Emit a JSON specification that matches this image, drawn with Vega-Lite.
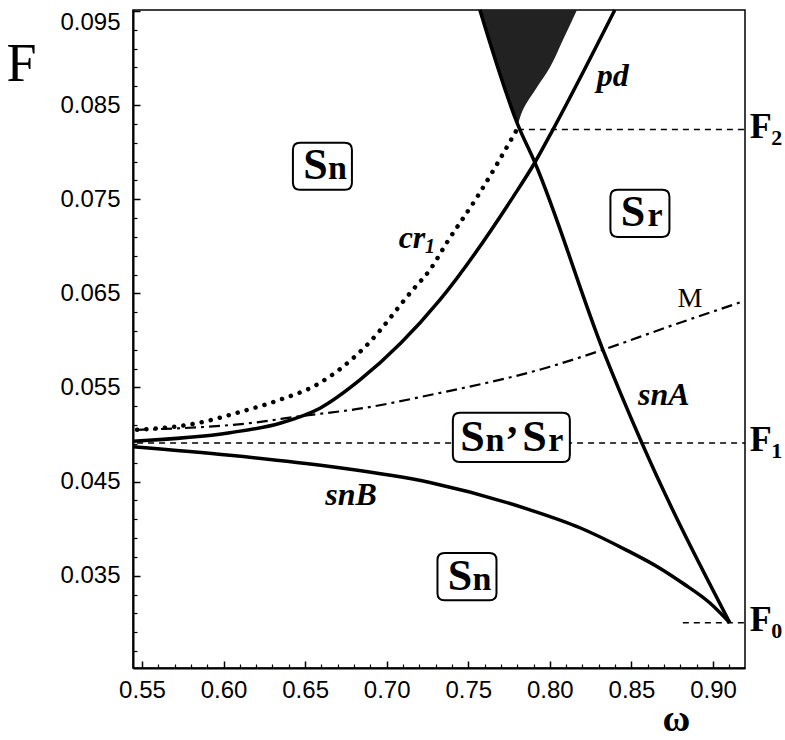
{
  "$schema": "https://vega.github.io/schema/vega-lite/v6.json",
  "width": 612,
  "height": 658,
  "autosize": {"type": "none"},
  "padding": {"left": 133, "top": 10, "right": 40, "bottom": 72},
  "background": "white",
  "config": {
    "view": {"stroke": "black", "strokeWidth": 1.5},
    "axis": {
      "domainColor": "black",
      "domainWidth": 2,
      "tickColor": "black",
      "tickWidth": 1.5,
      "labelColor": "black",
      "labelFont": "Liberation Sans",
      "labelFontSize": 24,
      "labelOverlap": false,
      "grid": false,
      "titleColor": "black"
    }
  },
  "datasets": {
    "curves": [
      {"curve": "pd", "w": 0.5445, "F": 0.0493},
      {"curve": "pd", "w": 0.6039, "F": 0.0502},
      {"curve": "pd", "w": 0.6346, "F": 0.0512},
      {"curve": "pd", "w": 0.6591, "F": 0.0528},
      {"curve": "pd", "w": 0.6836, "F": 0.0558},
      {"curve": "pd", "w": 0.7326, "F": 0.0643},
      {"curve": "pd", "w": 0.7773, "F": 0.0752},
      {"curve": "pd", "w": 0.7908, "F": 0.0789},
      {"curve": "pd", "w": 0.8019, "F": 0.0824},
      {"curve": "pd", "w": 0.8398, "F": 0.0951},
      {"curve": "cr1", "w": 0.5470, "F": 0.0505},
      {"curve": "cr1", "w": 0.5837, "F": 0.0512},
      {"curve": "cr1", "w": 0.6101, "F": 0.0524},
      {"curve": "cr1", "w": 0.6346, "F": 0.0537},
      {"curve": "cr1", "w": 0.6572, "F": 0.0553},
      {"curve": "cr1", "w": 0.6867, "F": 0.0593},
      {"curve": "cr1", "w": 0.7161, "F": 0.0654},
      {"curve": "cr1", "w": 0.7265, "F": 0.0675},
      {"curve": "cr1", "w": 0.7369, "F": 0.0704},
      {"curve": "cr1", "w": 0.7553, "F": 0.0752},
      {"curve": "cr1", "w": 0.7798, "F": 0.0824},
      {"curve": "M", "w": 0.5470, "F": 0.0505},
      {"curve": "M", "w": 0.6205, "F": 0.0513},
      {"curve": "M", "w": 0.6450, "F": 0.0519},
      {"curve": "M", "w": 0.6854, "F": 0.0528},
      {"curve": "M", "w": 0.7265, "F": 0.0542},
      {"curve": "M", "w": 0.8000, "F": 0.0572},
      {"curve": "M", "w": 0.8325, "F": 0.0590},
      {"curve": "M", "w": 0.8717, "F": 0.0614},
      {"curve": "M", "w": 0.9177, "F": 0.0641},
      {"curve": "snA", "w": 0.9103, "F": 0.0300},
      {"curve": "snA", "w": 0.8564, "F": 0.0491},
      {"curve": "snA", "w": 0.8325, "F": 0.0590},
      {"curve": "snA", "w": 0.7908, "F": 0.0789},
      {"curve": "snA", "w": 0.7804, "F": 0.0829},
      {"curve": "snA", "w": 0.7571, "F": 0.0951},
      {"curve": "snB", "w": 0.5445, "F": 0.0487},
      {"curve": "snB", "w": 0.6039, "F": 0.0478},
      {"curve": "snB", "w": 0.6652, "F": 0.0466},
      {"curve": "snB", "w": 0.7265, "F": 0.0449},
      {"curve": "snB", "w": 0.7878, "F": 0.0420},
      {"curve": "snB", "w": 0.8184, "F": 0.0401},
      {"curve": "snB", "w": 0.8472, "F": 0.0377},
      {"curve": "snB", "w": 0.8674, "F": 0.0358},
      {"curve": "snB", "w": 0.8815, "F": 0.0342},
      {"curve": "snB", "w": 0.8981, "F": 0.0321},
      {"curve": "snB", "w": 0.9103, "F": 0.0300}
    ],
    "shaded": [
      {"F": 0.0829, "w": 0.7804, "w2": 0.7804},
      {"F": 0.0845, "w": 0.7773, "w2": 0.7835},
      {"F": 0.0869, "w": 0.7728, "w2": 0.7921},
      {"F": 0.0890, "w": 0.7687, "w2": 0.8000},
      {"F": 0.0919, "w": 0.7632, "w2": 0.8080},
      {"F": 0.0951, "w": 0.7571, "w2": 0.8166}
    ],
    "levels": [
      {"level": "F0", "main": "F", "sub": "0", "F": 0.0300, "w": 0.8815, "w2": 0.9196, "wl": 0.9293},
      {"level": "F1", "main": "F", "sub": "1", "F": 0.0491, "w": 0.5470, "w2": 0.9196, "wl": 0.9293},
      {"level": "F2", "main": "F", "sub": "2", "F": 0.0824, "w": 0.7804, "w2": 0.9196, "wl": 0.9293}
    ],
    "regions": [
      {"label": "Sn", "main": "S", "sub": "n", "w": 0.6606, "F": 0.0785},
      {"label": "Sr", "main": "S", "sub": "r", "w": 0.8552, "F": 0.0735},
      {"label": "Sn", "main": "S", "sub": "n", "w": 0.7492, "F": 0.0349}
    ],
    "mixed": [
      {"label": "Sn, Sr", "a": "S", "b": "n", "c": ",", "d": "S", "e": "r", "w": 0.7764, "F": 0.0497}
    ],
    "curveLabels": [
      {"name": "pd", "sub": "", "w": 0.8386, "F": 0.0870},
      {"name": "snA", "sub": "", "w": 0.8699, "F": 0.0531},
      {"name": "snB", "sub": "", "w": 0.6781, "F": 0.0425},
      {"name": "cr", "sub": "1", "w": 0.7155, "F": 0.0698},
      {"name": "M", "sub": "", "w": 0.8858, "F": 0.0635}
    ]
  },
  "encoding": {
    "x": {"field": "w", "type": "quantitative", "scale": {"domain": [0.5445, 0.9196], "nice": false, "zero": false}, "axis": null},
    "y": {"field": "F", "type": "quantitative", "scale": {"domain": [0.0252, 0.0951], "nice": false, "zero": false}, "axis": null}
  },
  "resolve": {"axis": {"x": "independent", "y": "independent"}},
  "layer": [
    {
      "data": {"name": "levels"},
      "mark": {"type": "point", "opacity": 0},
      "encoding": {
        "x": {
          "field": "w", "type": "quantitative",
          "scale": {"domain": [0.5445, 0.9196], "nice": false, "zero": false},
          "axis": {
            "orient": "bottom",
            "values": [0.55, 0.6, 0.65, 0.7, 0.75, 0.8, 0.85, 0.9],
            "format": ".2f",
            "tickSize": -7,
            "labelPadding": 17,
            "labelFlush": false,
            "title": "ω",
            "titleFont": "Liberation Serif",
            "titleFontSize": 38,
            "titleFontWeight": "bold",
            "titleX": 543,
            "titleY": 62,
            "titleAlign": "center",
            "titleBaseline": "alphabetic"
          }
        },
        "y": {
          "field": "F", "type": "quantitative",
          "scale": {"domain": [0.0252, 0.0951], "nice": false, "zero": false},
          "axis": {
            "orient": "left",
            "values": [0.035, 0.045, 0.055, 0.065, 0.075, 0.085, 0.095],
            "format": ".3f",
            "tickSize": -7,
            "labelPadding": 20,
            "labelFlush": 3,
            "title": "F",
            "titleAngle": 0,
            "titleFont": "Liberation Serif",
            "titleFontSize": 54,
            "titleFontWeight": "normal",
            "titleX": -112,
            "titleY": 70,
            "titleAlign": "center",
            "titleBaseline": "alphabetic"
          }
        }
      }
    },
    {
      "data": {"name": "levels"},
      "mark": {"type": "point", "opacity": 0},
      "encoding": {
        "x": {
          "field": "w", "type": "quantitative",
          "scale": {"domain": [0.5445, 0.9196], "nice": false, "zero": false},
          "axis": {
            "orient": "bottom",
            "values": [0.56, 0.57, 0.58, 0.59, 0.61, 0.62, 0.63, 0.64, 0.66, 0.67, 0.68, 0.69, 0.71, 0.72, 0.73, 0.74, 0.76, 0.77, 0.78, 0.79, 0.81, 0.82, 0.83, 0.84, 0.86, 0.87, 0.88, 0.89, 0.91],
            "labels": false,
            "domain": false,
            "tickSize": -4,
            "tickWidth": 1.2,
            "title": null
          }
        },
        "y": {
          "field": "F", "type": "quantitative",
          "scale": {"domain": [0.0252, 0.0951], "nice": false, "zero": false},
          "axis": {
            "orient": "left",
            "values": [0.027, 0.029, 0.031, 0.033, 0.037, 0.039, 0.041, 0.043, 0.047, 0.049, 0.051, 0.053, 0.057, 0.059, 0.061, 0.063, 0.067, 0.069, 0.071, 0.073, 0.077, 0.079, 0.081, 0.083, 0.087, 0.089, 0.091, 0.093],
            "labels": false,
            "domain": false,
            "tickSize": -4,
            "tickWidth": 1.2,
            "title": null
          }
        }
      }
    },
    {
      "data": {"name": "shaded"},
      "mark": {"type": "area", "orient": "horizontal", "fill": "#222222", "interpolate": "monotone"},
      "encoding": {"x2": {"field": "w2"}}
    },
    {
      "data": {"name": "levels"},
      "mark": {"type": "rule", "strokeDash": [6, 5], "strokeWidth": 1.5, "color": "black"},
      "encoding": {"x2": {"field": "w2"}}
    },
    {
      "data": {"name": "curves"},
      "transform": [{"filter": "datum.curve === 'cr1'"}],
      "mark": {"type": "line", "strokeDash": [0.1, 9.2], "strokeCap": "round", "strokeWidth": 4.5, "color": "black", "interpolate": "monotone"}
    },
    {
      "data": {"name": "curves"},
      "transform": [{"filter": "datum.curve === 'M'"}],
      "mark": {"type": "line", "strokeDash": [11, 5, 3, 5], "strokeWidth": 2.2, "color": "black", "interpolate": "monotone"}
    },
    {
      "data": {"name": "curves"},
      "transform": [{"filter": "indexof(['pd', 'snA', 'snB'], datum.curve) >= 0"}],
      "mark": {"type": "line", "strokeWidth": 3.5, "color": "black", "interpolate": "monotone"},
      "encoding": {"detail": {"field": "curve"}}
    },
    {
      "data": {"name": "regions"},
      "mark": {
        "type": "point",
        "shape": "M-0.76,-0.8 L0.76,-0.8 Q1,-0.8 1,-0.56 L1,0.56 Q1,0.8 0.76,0.8 L-0.76,0.8 Q-1,0.8 -1,0.56 L-1,-0.56 Q-1,-0.8 -0.76,-0.8 Z",
        "size": 3481,
        "filled": true,
        "fill": "white",
        "stroke": "black",
        "strokeWidth": 2,
        "opacity": 1
      }
    },
    {
      "data": {"name": "regions"},
      "mark": {"type": "text", "font": "Liberation Serif", "fontWeight": "bold", "fontSize": 44, "dx": -7, "dy": 13, "align": "center", "baseline": "alphabetic", "color": "black"},
      "encoding": {"text": {"field": "main"}}
    },
    {
      "data": {"name": "regions"},
      "mark": {"type": "text", "font": "Liberation Serif", "fontWeight": "bold", "fontSize": 34, "dx": 15, "dy": 13, "align": "center", "baseline": "alphabetic", "color": "black"},
      "encoding": {"text": {"field": "sub"}}
    },
    {
      "data": {"name": "mixed"},
      "mark": {
        "type": "point",
        "shape": "M-0.88,-0.42 L0.88,-0.42 Q1,-0.42 1,-0.3 L1,0.3 Q1,0.42 0.88,0.42 L-0.88,0.42 Q-1,0.42 -1,0.3 L-1,-0.3 Q-1,-0.42 -0.88,-0.42 Z",
        "size": 13689,
        "filled": true,
        "fill": "white",
        "stroke": "black",
        "strokeWidth": 2,
        "opacity": 1
      }
    },
    {
      "data": {"name": "mixed"},
      "mark": {"type": "text", "font": "Liberation Serif", "fontWeight": "bold", "fontSize": 44, "dx": -39, "dy": 14, "align": "center", "baseline": "alphabetic", "color": "black"},
      "encoding": {"text": {"field": "a"}}
    },
    {
      "data": {"name": "mixed"},
      "mark": {"type": "text", "font": "Liberation Serif", "fontWeight": "bold", "fontSize": 34, "dx": -16.5, "dy": 14, "align": "center", "baseline": "alphabetic", "color": "black"},
      "encoding": {"text": {"field": "b"}}
    },
    {
      "data": {"name": "mixed"},
      "mark": {"type": "text", "font": "Liberation Serif", "fontWeight": "bold", "fontSize": 40, "dx": 1, "dy": -4, "align": "center", "baseline": "alphabetic", "color": "black"},
      "encoding": {"text": {"field": "c"}}
    },
    {
      "data": {"name": "mixed"},
      "mark": {"type": "text", "font": "Liberation Serif", "fontWeight": "bold", "fontSize": 44, "dx": 23, "dy": 14, "align": "center", "baseline": "alphabetic", "color": "black"},
      "encoding": {"text": {"field": "d"}}
    },
    {
      "data": {"name": "mixed"},
      "mark": {"type": "text", "font": "Liberation Serif", "fontWeight": "bold", "fontSize": 34, "dx": 44.5, "dy": 14, "align": "center", "baseline": "alphabetic", "color": "black"},
      "encoding": {"text": {"field": "e"}}
    },
    {
      "data": {"name": "curveLabels"},
      "transform": [{"filter": "datum.name !== 'M'"}],
      "mark": {"type": "text", "font": "Liberation Serif", "fontWeight": "bold", "fontStyle": "italic", "fontSize": 32, "align": "center", "baseline": "alphabetic", "color": "black"},
      "encoding": {"text": {"field": "name"}}
    },
    {
      "data": {"name": "curveLabels"},
      "transform": [{"filter": "datum.sub !== ''"}],
      "mark": {"type": "text", "font": "Liberation Serif", "fontWeight": "bold", "fontStyle": "italic", "fontSize": 20, "dx": 18, "dy": 5, "align": "center", "baseline": "alphabetic", "color": "black"},
      "encoding": {"text": {"field": "sub"}}
    },
    {
      "data": {"name": "curveLabels"},
      "transform": [{"filter": "datum.name === 'M'"}],
      "mark": {"type": "text", "font": "Liberation Serif", "fontSize": 28, "align": "center", "baseline": "alphabetic", "color": "black"},
      "encoding": {"text": {"field": "name"}}
    },
    {
      "data": {"name": "levels"},
      "mark": {"type": "text", "font": "Liberation Serif", "fontWeight": "bold", "fontSize": 36, "dy": 8, "align": "center", "baseline": "alphabetic", "color": "black"},
      "encoding": {
        "x": {"field": "wl", "type": "quantitative", "scale": {"domain": [0.5445, 0.9196], "nice": false, "zero": false}, "axis": null},
        "text": {"field": "main"}
      }
    },
    {
      "data": {"name": "levels"},
      "mark": {"type": "text", "font": "Liberation Serif", "fontWeight": "bold", "fontSize": 22, "dx": 16, "dy": 15, "align": "center", "baseline": "alphabetic", "color": "black"},
      "encoding": {
        "x": {"field": "wl", "type": "quantitative", "scale": {"domain": [0.5445, 0.9196], "nice": false, "zero": false}, "axis": null},
        "text": {"field": "sub"}
      }
    }
  ]
}
